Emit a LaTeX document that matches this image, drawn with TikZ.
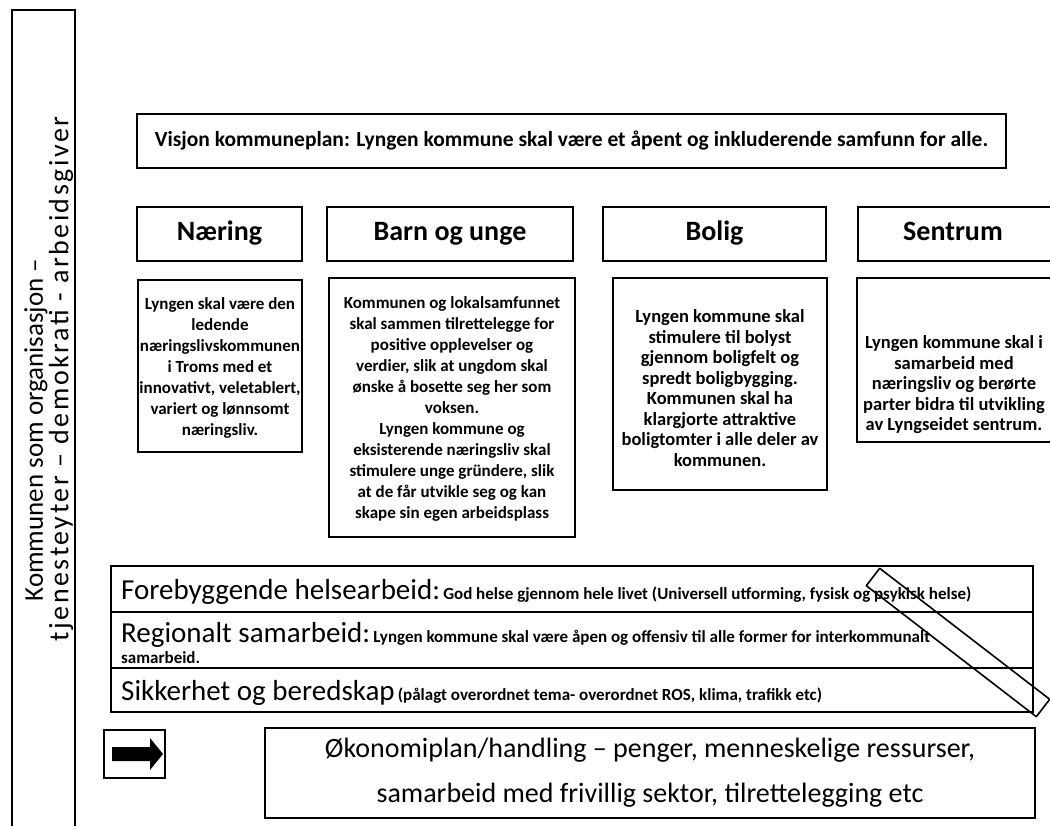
\documentclass[tikz,border=0pt]{standalone}
\usepackage{fontspec}
\setmainfont{Carlito}
\begin{document}
\begin{tikzpicture}[x=1pt,y=-1pt,
  frame/.style={draw, line width=1.1pt, inner sep=0pt},
  head/.style={frame, text height=19pt, text depth=6pt, font=\fontsize{28}{32}\selectfont\bfseries},
  headtxt/.style={inner sep=0pt, text height=19pt, text depth=6pt, font=\fontsize{28}{32}\selectfont\bfseries},
  bodytxt/.style={align=center, inner sep=0pt, font=\fontsize{17}{21}\selectfont\bfseries},
  bodytxtb/.style={align=center, inner sep=0pt, font=\fontsize{18.5}{20.5}\selectfont\bfseries},
  big/.style={inner sep=0pt, anchor=base west, font=\fontsize{29}{32}\selectfont},
  small/.style={inner sep=0pt, anchor=base west, font=\fontsize{17}{20}\selectfont\bfseries},
  side/.style={inner sep=0pt, rotate=90},
]
\useasboundingbox (0,0) rectangle (1050,825);

% left column
\coordinate (c1) at (12,830);
\coordinate (c2) at (12,10);
\coordinate (c3) at (75,10);
\coordinate (c4) at (75,830);
\draw[line width=1.1pt] (c1) -- (c2) -- (c3) -- (c4);
\node[side, font=\fontsize{27}{30}\selectfont] (side1) at (36,430) {Kommunen som organisasjon –};
\node[side, font=\fontsize{28}{30}\selectfont\addfontfeature{LetterSpace=9}] (side2) at (61,379) {tjenesteyter – demokrati - arbeidsgiver};

% vision
\node[frame, minimum width=869pt, minimum height=54pt, font=\fontsize{21.5}{24}\selectfont\bfseries] (vis) at (571.5,141)
  {Visjon kommuneplan: Lyngen kommune skal være et åpent og inkluderende samfunn for alle.};

% headings
\node[head, minimum width=165pt, minimum height=54pt] (hN) at (219.5,234) {Næring};
\node[head, minimum width=246pt, minimum height=54pt] (hB) at (450,234) {Barn og unge};
\node[head, minimum width=223pt, minimum height=54pt] (hBo) at (714.5,234) {Bolig};
\coordinate (hS1) at (1060,207);
\coordinate (hS2) at (858,207);
\coordinate (hS3) at (858,261);
\coordinate (hS4) at (1060,261);
\draw[line width=1.1pt] (hS1) -- (hS2) -- (hS3) -- (hS4);
\node[headtxt] (hS) at (953,234) {Sentrum};

% body boxes
\node[frame, minimum width=164pt, minimum height=172pt] (bN) at (220,366) {};
\node[frame, minimum width=246pt, minimum height=259pt] (bB) at (452,407.5) {};
\node[frame, minimum width=214pt, minimum height=212pt] (bBo) at (720,384) {};
\coordinate (bS1) at (1060,278);
\coordinate (bS2) at (857,278);
\coordinate (bS3) at (857,442);
\coordinate (bS4) at (1060,442);
\draw[line width=1.1pt] (bS1) -- (bS2) -- (bS3) -- (bS4);

\node[bodytxt] (tN) at (220,368) {Lyngen skal være den\\ledende\\næringslivskommunen\\i Troms med et\\innovativt, veletablert,\\variert og lønnsomt\\næringsliv.};
\node[bodytxt] (tB) at (452,409) {Kommunen og lokalsamfunnet\\skal sammen tilrettelegge for\\positive opplevelser og\\verdier, slik at ungdom skal\\ønske å bosette seg her som\\voksen.\\Lyngen kommune og\\eksisterende næringsliv skal\\stimulere unge gründere, slik\\at de får utvikle seg og kan\\skape sin egen arbeidsplass};
\node[bodytxtb] (tBo) at (720,388) {Lyngen kommune skal\\stimulere til bolyst\\gjennom boligfelt og\\spredt boligbygging.\\Kommunen skal ha\\klargjorte attraktive\\boligtomter i alle deler av\\kommunen.};
\node[bodytxtb] (tS) at (954,385) {Lyngen kommune skal i\\samarbeid med\\næringsliv og berørte\\parter bidra til utvikling\\av Lyngseidet sentrum.};

% stacked rows
\node[frame, minimum width=922pt, minimum height=46pt] (r1) at (572,589) {};
\node[frame, minimum width=922pt, minimum height=56pt] (r2) at (572,640) {};
\node[frame, minimum width=922pt, minimum height=44pt] (r3) at (572,690) {};

\node[big] (r1a) at (121,599) {Forebyggende helsearbeid:};
\node[small, anchor=base west] (r1b) at (r1a.base east) {\,God helse gjennom hele livet (Universell utforming, fysisk og psykisk helse)};
\node[big] (r2a) at (121,642) {Regionalt samarbeid:};
\node[small, anchor=base west] (r2b) at (r2a.base east) {\,Lyngen kommune skal være åpen og offensiv til alle former for interkommunalt};
\node[small] (r2c) at (121,663) {samarbeid.};
\node[big] (r3a) at (121,700) {Sikkerhet og beredskap};
\node[small, anchor=base west] (r3b) at (r3a.base east) {\,(pålagt overordnet tema- overordnet ROS, klima, trafikk etc)};

% slanted bar
\coordinate (s1) at (879.7,568.3);
\coordinate (s2) at (866.3,585.7);
\coordinate (s3) at (1036.3,716.7);
\coordinate (s4) at (1049.7,699.3);
\draw[line width=1.6pt, line join=round] (s1) -- (s2) -- (s3) -- (s4) -- cycle;

% arrow box
\node[frame, minimum width=61pt, minimum height=48pt] (abox) at (134.5,754) {};
\fill (112,747) -- (150,747) -- (150,738) -- (163,754) -- (150,770) -- (150,761) -- (112,761) -- cycle;

% economy box
\node[frame, minimum width=770pt, minimum height=90pt, align=center,
  font=\fontsize{28}{45}\selectfont] (eco) at (650,773)
  {Økonomiplan/handling – penger, menneskelige ressurser,\\samarbeid med frivillig sektor, tilrettelegging etc};
\end{tikzpicture}
\end{document}
